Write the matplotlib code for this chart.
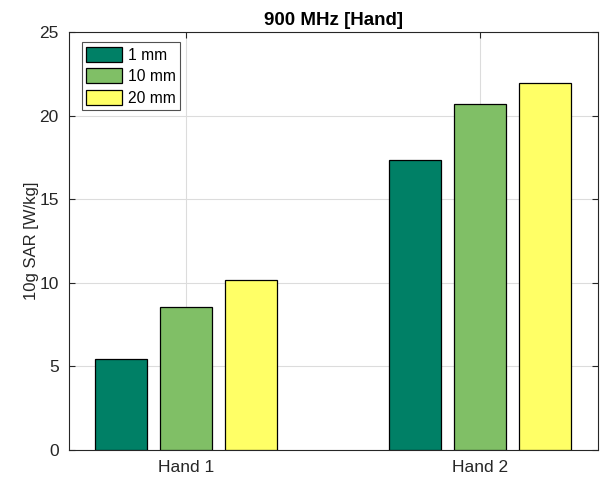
import matplotlib
matplotlib.use("Agg")
import matplotlib.pyplot as plt
import numpy as np

plt.rcParams['font.family'] = ['Liberation Sans', 'DejaVu Sans']

categories = ["Hand 1", "Hand 2"]
series_names = ["1 mm", "10 mm", "20 mm"]
values_1mm = [5.45, 17.35]
values_10mm = [8.58, 20.72]
values_20mm = [10.18, 21.95]
colors = ["#008066", "#80BF66", "#FFFF66"]

fig = plt.figure(figsize=(6.02, 4.84), dpi=100)
ax = fig.add_axes([68.5/602, 1 - 450/484, (597.5-68.5)/602, (450-32)/484])

x = np.arange(1, len(categories) + 1)
offset = 0.222
width = 0.178
for i, (vals, name) in enumerate(zip([values_1mm, values_10mm, values_20mm], series_names)):
    ax.bar(x + (i - 1) * offset, vals, width, color=colors[i], edgecolor="black",
           linewidth=0.9, label=name, zorder=3)

ax.set_xlim(0.6, 2.4)
ax.set_ylim(0, 25)
ax.set_xticks(x)
ax.set_xticklabels(categories)
ax.set_yticks([0, 5, 10, 15, 20, 25])
ax.grid(True, color="#dcdcdc", linewidth=0.8, zorder=0)
ax.set_axisbelow(True)
ax.tick_params(direction="in", top=True, right=True, colors="#262626", labelsize=12.5,
               length=4, width=0.8, labelcolor="#262626")
ax.tick_params(axis='x', pad=7)
ax.tick_params(axis='y', pad=7)
for s in ax.spines.values():
    s.set_color("#262626")
    s.set_linewidth(0.8)
ax.set_ylabel("10g SAR [W/kg]", fontsize=12, color="#262626", labelpad=0)
ax.set_title("900 MHz [Hand]", fontsize=13.5, fontweight="bold", color="black", pad=5)

leg = ax.legend(loc="upper left", bbox_to_anchor=(0.025, 0.975), fontsize=11.25,
                frameon=True, fancybox=False, edgecolor="#262626", handlelength=2.3,
                handleheight=1.08, handletextpad=0.33, labelspacing=0.36, borderpad=0.3,
                borderaxespad=0)
leg.get_frame().set_linewidth(0.8)

fig.savefig("out.png", dpi=100)
